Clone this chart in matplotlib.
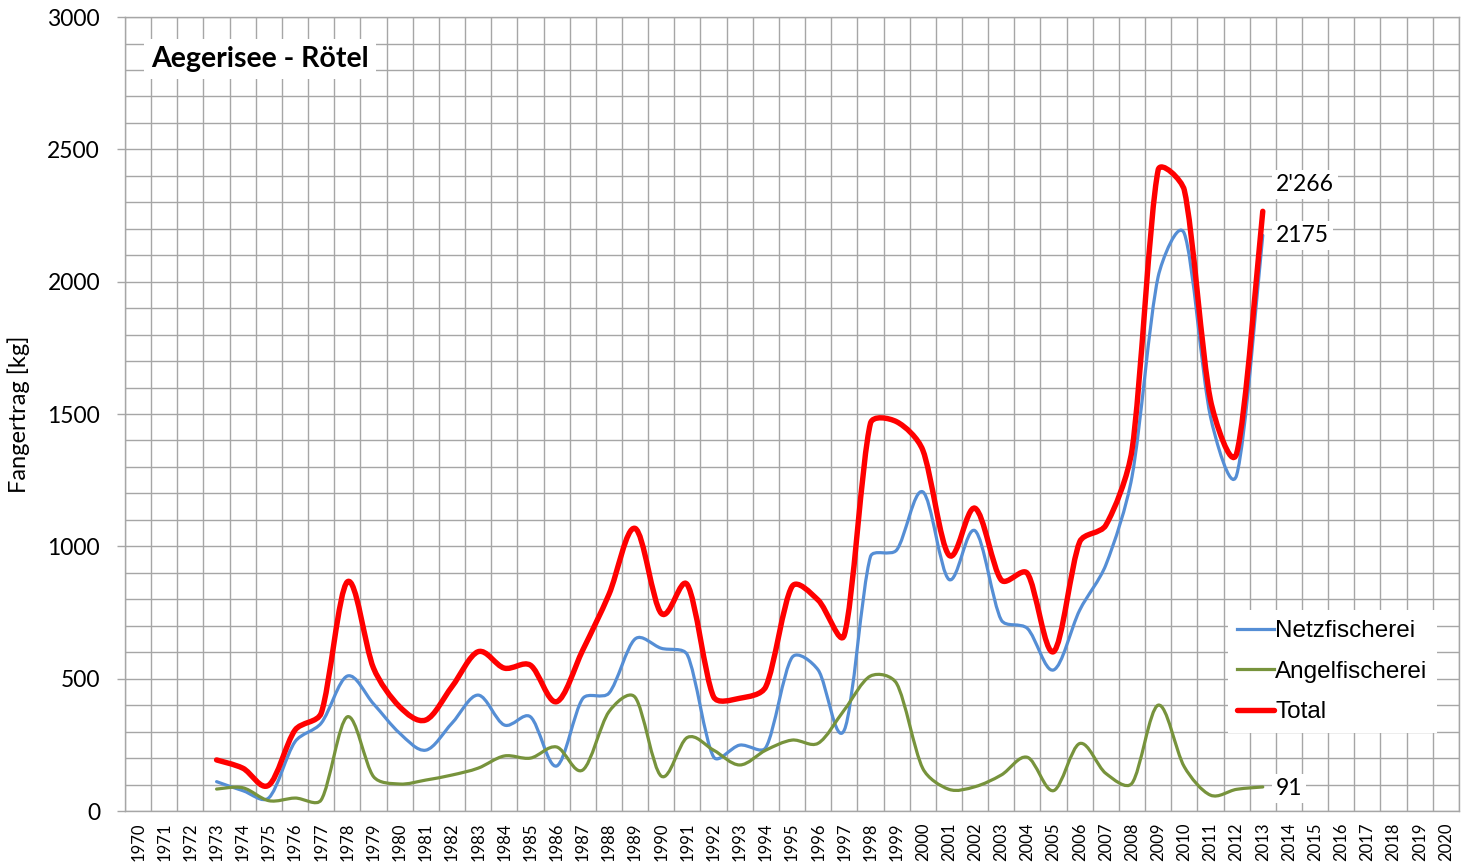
import matplotlib
matplotlib.use("Agg")
import matplotlib.pyplot as plt
from matplotlib.path import Path
from matplotlib.patches import PathPatch
from matplotlib.lines import Line2D
from matplotlib.ticker import MultipleLocator
import numpy as np

# Fangertrag Aegerisee - Rötel, kg pro Jahr
years = list(range(1973, 2014))
netz = [111, 77, 50, 262, 332, 510, 405, 294, 230, 332,
        438, 325, 356, 170, 425, 445, 650, 615, 590, 205,
        249, 240, 580, 533, 306, 961, 986, 1206, 875, 1059,
        722, 690, 533, 759, 930, 1263, 2019, 2182, 1490, 1269, 2175]
angel = [83, 88, 39, 49, 42, 356, 130, 102, 117, 136,
         162, 208, 200, 242, 155, 375, 430, 132, 278, 230,
         174, 230, 268, 256, 382, 510, 482, 161, 82, 92,
         136, 203, 77, 255, 142, 105, 400, 167, 60, 82, 91]
total = [193, 162, 98, 306, 370, 866, 540, 394, 344, 470,
         602, 540, 551, 413, 608, 818, 1068, 747, 855, 432,
         426, 470, 848, 797, 665, 1465, 1471, 1364, 967, 1144,
         873, 898, 602, 1017, 1080, 1364, 2422, 2346, 1553, 1351, 2266]

xlabels = [str(y) for y in range(1970, 2021)]

C_NETZ = "#558ED5"
C_ANGEL = "#77933C"
C_TOTAL = "#FF0000"
GRID = "#A6A6A6"
CAL = ["Lato", "DejaVu Sans"]


def smooth_path(ax, x, y, k=1 / 3):
    # geglättete Linie wie in Excel: Catmull-Rom-Bezier (1/6),
    # Kontrollpunkte auf k * Segmentlänge begrenzt (in Pixeln)
    pts = ax.transData.transform(np.column_stack([x, y]))
    n = len(pts)
    verts = [pts[0]]
    codes = [Path.MOVETO]
    for i in range(n - 1):
        p, q = pts[i], pts[i + 1]
        seg = np.hypot(*(q - p))
        a = pts[i - 1] if i > 0 else p
        b = pts[i + 2] if i + 2 < n else q
        t1 = q - a
        t2 = b - p
        l1 = np.hypot(*t1)
        l2 = np.hypot(*t2)
        c1 = p + t1 / l1 * min(l1 / 6, k * seg) if l1 else p
        c2 = q - t2 / l2 * min(l2 / 6, k * seg) if l2 else q
        verts += [c1, c2, q]
        codes += [Path.CURVE4] * 3
    verts = ax.transData.inverted().transform(np.array(verts))
    return Path(verts, codes)


fig = plt.figure(figsize=(14.71, 8.65), dpi=100)
ax = fig.add_axes([0.085, 0.0624, 0.9068, 0.9179])

ax.set_xlim(1969.5, 2020.5)
ax.set_ylim(0, 3000)

ax.set_xticks(range(1970, 2021))
ax.set_xticklabels(xlabels, rotation=90, fontsize=12, family=CAL)
ax.set_xticks(np.arange(1969.5, 2021, 1.0), minor=True)
ax.yaxis.set_major_locator(MultipleLocator(500))
ax.yaxis.set_minor_locator(MultipleLocator(100))
for lab in ax.get_yticklabels():
    lab.set_family(CAL)
    lab.set_fontsize(16.5)

ax.tick_params(axis="x", which="both", length=0, pad=8, colors="black")
ax.tick_params(axis="y", which="major", length=6, width=1, color=GRID, pad=12)
ax.tick_params(axis="y", which="minor", length=0)

ax.grid(True, which="minor", axis="x", color=GRID, lw=1)
ax.grid(True, which="both", axis="y", color=GRID, lw=1)
ax.set_axisbelow(True)
for s in ax.spines.values():
    s.set_color(GRID)
    s.set_linewidth(1)

ax.set_ylabel("Fangertrag [kg]", fontsize=17, family=CAL)
ax.yaxis.set_label_coords(-0.071, 0.5)

for vals, col, lw in [(netz, C_NETZ, 2.3), (angel, C_ANGEL, 2.3), (total, C_TOTAL, 3.9)]:
    ax.add_patch(PathPatch(smooth_path(ax, years, vals), fill=False, edgecolor=col,
                           lw=lw, capstyle="round", joinstyle="round", zorder=3))

# Titel
ax.text(0.0195, 0.947, "Aegerisee - Rötel", transform=ax.transAxes, ha="left", va="center",
        fontsize=20.5, fontweight="bold", family=CAL,
        bbox=dict(facecolor="white", edgecolor="none", pad=5), zorder=5)

# Datenbeschriftungen letztes Jahr
box = dict(facecolor="white", edgecolor="none", pad=3)
ax.text(years[-1] + 0.5, total[-1] + 100, "2'266", ha="left", va="center",
        fontsize=16.5, family=CAL, bbox=box, zorder=5)
ax.text(years[-1] + 0.5, netz[-1], str(netz[-1]), ha="left", va="center",
        fontsize=16.5, family=CAL, bbox=box, zorder=5)
ax.text(years[-1] + 0.5, angel[-1] - 5, str(angel[-1]), ha="left", va="center",
        fontsize=16.5, family=CAL, bbox=box, zorder=5)

handles = [Line2D([], [], color=C_NETZ, lw=2.3),
           Line2D([], [], color=C_ANGEL, lw=2.3),
           Line2D([], [], color=C_TOTAL, lw=3.9, solid_capstyle="round")]
leg = ax.legend(handles, ["Netzfischerei", "Angelfischerei", "Total"],
                loc="upper left", bbox_to_anchor=(0.8175, 0.268),
                prop={"family": "Liberation Sans", "size": 17.5},
                frameon=True, fancybox=False, framealpha=1, edgecolor="none",
                handlelength=1.5, handletextpad=0.05, labelspacing=0.76,
                borderpad=0.4)
leg.set_zorder(6)

fig.savefig("out.png", dpi=100)
